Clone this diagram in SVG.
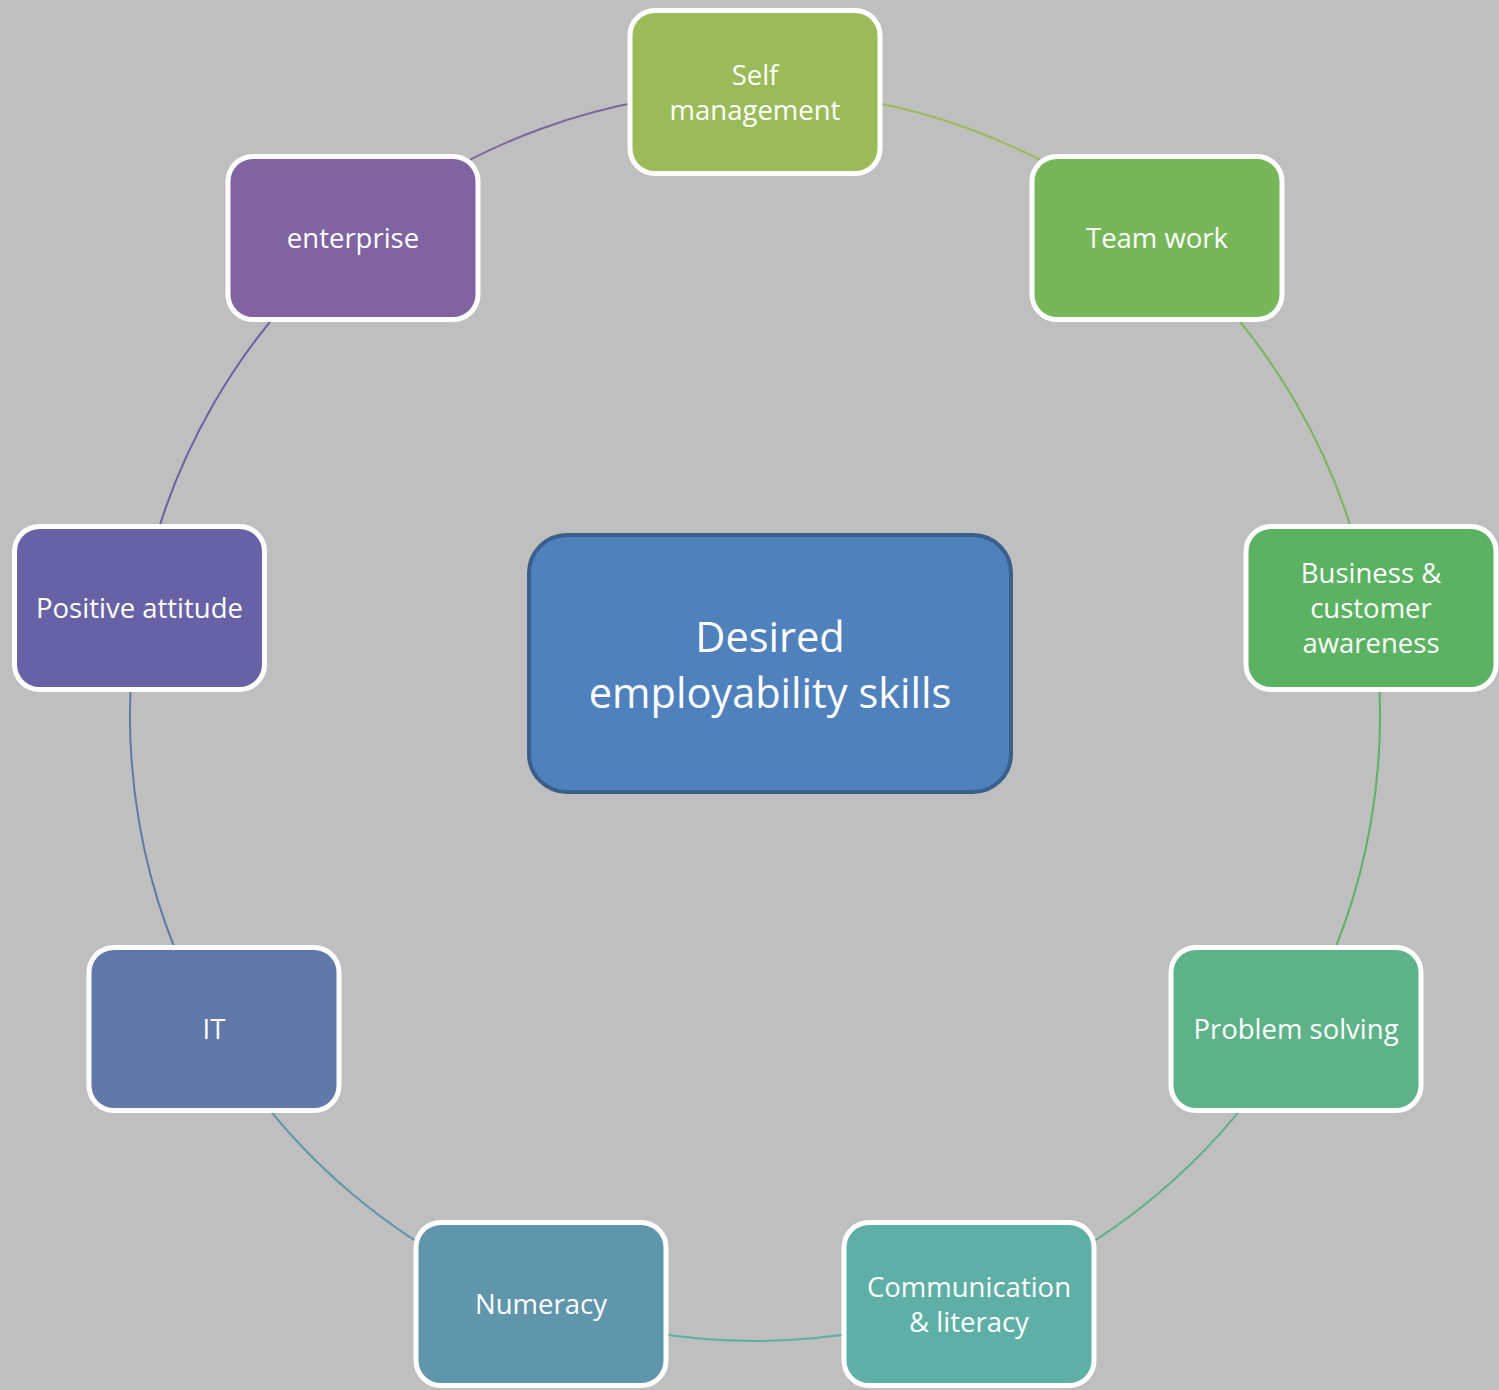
<svg xmlns="http://www.w3.org/2000/svg" width="1499" height="1390" viewBox="0 0 1499 1390">
<style>
.node rect{stroke:#FFFFFF;stroke-width:5}
.lbl{font-family:"Open Sans","Noto Sans",sans-serif;font-size:27.5px;fill:#FFFFFF;text-anchor:middle}
.big{font-family:"Open Sans","Noto Sans",sans-serif;font-size:41.5px;fill:#FFFFFF;text-anchor:middle}
.arc{fill:none;stroke-width:2}
</style>
<rect x="0" y="0" width="1499" height="1390" fill="#BFBFBF"/>
<g id="connectors">
<path class="arc" stroke="#9BBB59" d="M755,91 A625,625 0 0 1 1156.74,237.22"/>
<path class="arc" stroke="#77B75A" d="M1156.74,237.22 A625,625 0 0 1 1370.5,607.47"/>
<path class="arc" stroke="#5CB263" d="M1370.5,607.47 A625,625 0 0 1 1296.27,1028.5"/>
<path class="arc" stroke="#5DB287" d="M1296.27,1028.5 A625,625 0 0 1 968.76,1303.31"/>
<path class="arc" stroke="#5EAFA6" d="M968.76,1303.31 A625,625 0 0 1 541.24,1303.31"/>
<path class="arc" stroke="#5F96AC" d="M541.24,1303.31 A625,625 0 0 1 213.73,1028.5"/>
<path class="arc" stroke="#6179A8" d="M213.73,1028.5 A625,625 0 0 1 139.5,607.47"/>
<path class="arc" stroke="#6762A5" d="M139.5,607.47 A625,625 0 0 1 353.26,237.22"/>
<path class="arc" stroke="#8064A2" d="M353.26,237.22 A625,625 0 0 1 755,91"/>
</g>
<g id="center">
<rect x="529" y="535" width="482" height="257" rx="38" fill="#4F81BD" stroke="#3A5F8B" stroke-width="4"/>
<text class="big" x="770" y="652">Desired</text>
<text class="big" x="770" y="708">employability skills</text>
</g>
<g id="self-management" class="node">
<rect x="630" y="10.5" width="250" height="163" rx="25" fill="#9BBB59"/>
<text class="lbl" x="755" y="84.5">Self</text>
<text class="lbl" x="755" y="119.5">management</text>
</g>
<g id="team-work" class="node">
<rect x="1032" y="156.5" width="250" height="163" rx="25" fill="#77B75A"/>
<text class="lbl" x="1157" y="248">Team work</text>
</g>
<g id="business" class="node">
<rect x="1246" y="526.5" width="250" height="163" rx="25" fill="#5CB263"/>
<text class="lbl" x="1371" y="583">Business &amp;</text>
<text class="lbl" x="1371" y="618">customer</text>
<text class="lbl" x="1371" y="653">awareness</text>
</g>
<g id="problem-solving" class="node">
<rect x="1171" y="947.5" width="250" height="163" rx="25" fill="#5DB287"/>
<text class="lbl" x="1296" y="1039">Problem solving</text>
</g>
<g id="communication" class="node">
<rect x="844" y="1222.5" width="250" height="163" rx="25" fill="#5EAFA6"/>
<text class="lbl" x="969" y="1296.5">Communication</text>
<text class="lbl" x="969" y="1331.5">&amp; literacy</text>
</g>
<g id="numeracy" class="node">
<rect x="416" y="1222.5" width="250" height="163" rx="25" fill="#5F96AC"/>
<text class="lbl" x="541" y="1314">Numeracy</text>
</g>
<g id="it" class="node">
<rect x="89" y="947.5" width="250" height="163" rx="25" fill="#6179A8"/>
<text class="lbl" x="214" y="1039">IT</text>
</g>
<g id="positive-attitude" class="node">
<rect x="14.5" y="526.5" width="250" height="163" rx="25" fill="#6762A5"/>
<text class="lbl" x="139.5" y="618">Positive attitude</text>
</g>
<g id="enterprise" class="node">
<rect x="228" y="156.5" width="250" height="163" rx="25" fill="#8064A2"/>
<text class="lbl" x="353" y="248">enterprise</text>
</g>
</svg>
